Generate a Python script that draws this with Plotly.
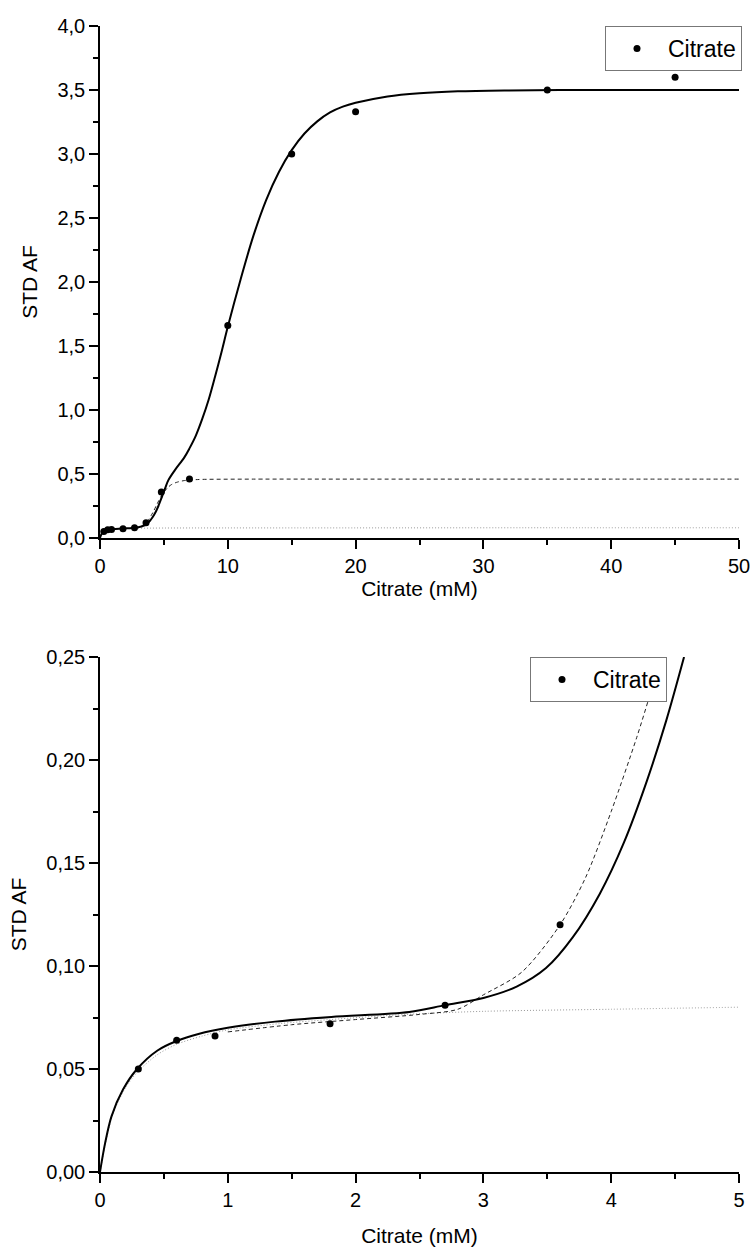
import plotly.graph_objects as go

# ---------------- data ----------------
# Top panel: measured points
top_x = [0.3, 0.6, 0.9, 1.8, 2.7, 3.6, 4.8, 7.0, 10, 15, 20, 35, 45]
top_y = [0.050, 0.064, 0.066, 0.072, 0.081, 0.120, 0.36, 0.46, 1.66, 3.0, 3.33, 3.5, 3.6]

# Top panel: cumulative fit (solid)
top_fit_x = [0, 0.1, 0.3, 0.6, 1.0, 1.5, 2.0, 2.5, 3.0, 3.26, 3.49, 3.70, 3.91, 4.1,
             4.28, 4.43, 4.57, 4.84, 5.1, 5.34, 5.86, 6.6, 7.0, 7.5, 8.0, 8.5, 9.0,
             9.5, 10.0, 11.0, 12.0, 13.0, 14.0, 15.0, 16.0, 17.0, 18.0, 19.0, 20.0,
             22.5, 25, 28, 32, 36, 40, 45, 50]
top_fit_y = [0, 0.028, 0.050, 0.063, 0.069, 0.073, 0.075, 0.078, 0.0845, 0.090, 0.099,
             0.114, 0.135, 0.160, 0.19, 0.219, 0.25, 0.32, 0.39, 0.45, 0.53, 0.63, 0.70,
             0.80, 0.93, 1.08, 1.26, 1.45, 1.65, 2.02, 2.36, 2.64, 2.86, 3.03, 3.16,
             3.255, 3.325, 3.37, 3.40, 3.45, 3.475, 3.49, 3.497, 3.5, 3.5, 3.5, 3.5]

# Top panel: second component (dashed)
top_dash_x = [2.7, 3.0, 3.3, 3.6, 3.8, 4.0, 4.2, 4.4, 4.6, 4.8, 5.0, 5.3, 5.6, 6.0,
              6.5, 7.0, 7.5, 8.0, 12, 20, 30, 40, 50]
top_dash_y = [0.080, 0.086, 0.097, 0.120, 0.143, 0.175, 0.211, 0.252, 0.292, 0.329,
              0.359, 0.394, 0.418, 0.435, 0.447, 0.453, 0.456, 0.458, 0.46, 0.46,
              0.46, 0.46, 0.46]

# Top panel: first component (dotted)
top_dot_x = [0, 0.2, 0.5, 1, 2, 3, 5, 20, 35, 50]
top_dot_y = [0, 0.04, 0.055, 0.067, 0.073, 0.076, 0.078, 0.079, 0.08, 0.08]

# Bottom panel: measured points
bot_x = [0.3, 0.6, 0.9, 1.8, 2.7, 3.6]
bot_y = [0.050, 0.064, 0.066, 0.072, 0.081, 0.120]

# Bottom panel: cumulative fit (solid)
bot_fit_x = [0, 0.04, 0.09, 0.18, 0.29, 0.45, 0.6, 0.77, 1.0, 1.37, 1.81, 2.42, 2.7,
             3.0, 3.26, 3.49, 3.70, 3.91, 4.1, 4.28, 4.43, 4.57]
bot_fit_y = [0, 0.014, 0.027, 0.040, 0.050, 0.059, 0.0636, 0.067, 0.070, 0.073, 0.0753,
             0.0777, 0.081, 0.0845, 0.090, 0.099, 0.114, 0.135, 0.160, 0.19, 0.219,
             0.25]

# Bottom panel: second component (dashed)
bot_dash_x = [1.0, 1.5, 2.0, 2.5, 2.8, 3.0, 3.3, 3.6, 3.8, 4.0, 4.2, 4.3, 4.4]
bot_dash_y = [0.068, 0.0715, 0.074, 0.0765, 0.079, 0.086, 0.097, 0.120, 0.143, 0.175,
              0.211, 0.231, 0.252]

# Bottom panel: first component (dotted)
bot_dot_x = [0, 0.05, 0.1, 0.2, 0.3, 0.45, 0.6, 0.8, 1.0, 1.4, 1.8, 2.4, 3.0, 4.0, 5.0]
bot_dot_y = [0, 0.016, 0.028, 0.041, 0.049, 0.057, 0.062, 0.066, 0.069, 0.072, 0.074,
             0.0765, 0.078, 0.079, 0.080]

series_name = "Citrate"
x_title = "Citrate (mM)"
y_title = "STD AF"

# ---------------- figure ----------------
FONT = "Arial, Liberation Sans, sans-serif"
fig = go.Figure()

def add_panel(xa, ya, px, py, fx, fy, dx, dy, ox, oy, legend):
    fig.add_trace(go.Scatter(x=ox, y=oy, mode="lines", xaxis=xa, yaxis=ya,
                             line=dict(color="#999", width=1, dash="1px,2px",
                                       shape="spline", smoothing=0.8),
                             showlegend=False, hoverinfo="skip"))
    fig.add_trace(go.Scatter(x=dx, y=dy, mode="lines", xaxis=xa, yaxis=ya,
                             line=dict(color="#222", width=1, dash="4px,3px",
                                       shape="spline", smoothing=0.8),
                             showlegend=False, hoverinfo="skip"))
    fig.add_trace(go.Scatter(x=fx, y=fy, mode="lines", xaxis=xa, yaxis=ya,
                             line=dict(color="black", width=2, shape="spline", smoothing=0.9),
                             showlegend=False, hoverinfo="skip"))
    fig.add_trace(go.Scatter(x=px, y=py, mode="markers", xaxis=xa, yaxis=ya,
                             marker=dict(color="black", size=7), name=series_name,
                             legend=legend, cliponaxis=False))

add_panel("x", "y", top_x, top_y, top_fit_x, top_fit_y, top_dash_x, top_dash_y,
          top_dot_x, top_dot_y, "legend")
add_panel("x2", "y2", bot_x, bot_y, bot_fit_x, bot_fit_y, bot_dash_x, bot_dash_y,
          bot_dot_x, bot_dot_y, "legend2")

axis_common = dict(showline=True, linecolor="black", linewidth=1.5, ticks="outside",
                   ticklen=9, tickwidth=1.5, tickcolor="black", showgrid=False,
                   zeroline=False, mirror=False, automargin=False,
                   tickfont=dict(family=FONT, size=20, color="black"),
                   title_font=dict(family=FONT, size=21, color="black"))
minor_common = dict(ticks="outside", ticklen=5, tickwidth=1.5, tickcolor="black")

H_PLOT = 1146
top_lo = (1172 - 538) / H_PLOT
bot_hi = (1172 - 657) / H_PLOT

legend_common = dict(xanchor="left", yanchor="top", bgcolor="white",
                     bordercolor="#777", borderwidth=1, itemwidth=52,
                     font=dict(family=FONT, size=23, color="black"))

fig.update_layout(
    width=753, height=1253,
    margin=dict(l=100, r=13, t=26, b=81),
    paper_bgcolor="white", plot_bgcolor="white",
    separators=",.",
    font=dict(family=FONT, color="black"),
    xaxis=dict(axis_common, domain=[0, 1], range=[0, 50], anchor="y",
               dtick=10, tickformat="d",
               minor=dict(minor_common, dtick=5),
               title=dict(text=x_title, standoff=0)),
    yaxis=dict(axis_common, domain=[top_lo, 1], range=[0, 4], anchor="x",
               dtick=0.5, tickformat=".1f",
               minor=dict(minor_common, dtick=0.25),
               title=dict(text=y_title, standoff=14)),
    xaxis2=dict(axis_common, domain=[0, 1], range=[0, 5], anchor="y2",
                dtick=1, tickformat="d",
                minor=dict(minor_common, dtick=0.5),
                title=dict(text=x_title, standoff=19)),
    yaxis2=dict(axis_common, domain=[0, bot_hi], range=[0, 0.25], anchor="x2",
                dtick=0.05, tickformat=".2f",
                minor=dict(minor_common, dtick=0.025),
                title=dict(text=y_title, standoff=14)),
    legend=dict(legend_common, x=(605 - 100) / 640, y=1.0),
    legend2=dict(legend_common, x=(530 - 100) / 640, y=bot_hi),
)

# remove the browser's default 8px page margin so the figure sits at (0, 0)
fig.write_html("out.html",
               config={"displayModeBar": False},
               post_script="document.body.style.margin='0';"
                           "document.body.style.overflow='hidden';")
